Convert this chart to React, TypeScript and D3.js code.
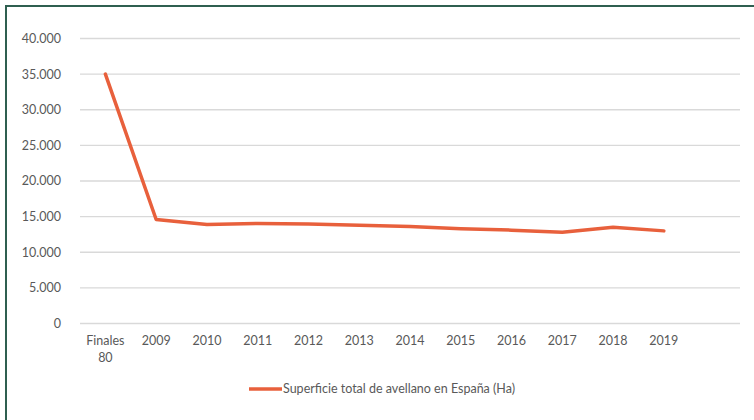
import React, { useEffect, useRef } from 'react';
import * as d3 from 'd3';

// categories (last one is an empty slot, the axis keeps room for it)
const categories = ['Finales 80', '2009', '2010', '2011', '2012', '2013', '2014', '2015', '2016', '2017', '2018', '2019', ''];
const superficie = [35000, 14600, 13900, 14050, 13950, 13800, 13600, 13300, 13100, 12800, 13500, 13000];
const yTicks = [0, 5000, 10000, 15000, 20000, 25000, 30000, 35000, 40000];
const seriesName = 'Superficie total de avellano en España (Ha)';

const App = () => {
  const svgRef = useRef<SVGSVGElement>(null);

  useEffect(() => {
    const width = 754;
    const height = 420;
    const svg = d3.select(svgRef.current);
    svg.selectAll('*').remove();
    svg.attr('width', width).attr('height', height);

    const font = 'Lato, "Open Sans", sans-serif';
    const textColor = '#595959';
    const lineColor = '#e8603c';
    const fs = 12.5;

    svg.append('rect').attr('width', width).attr('height', height).attr('fill', '#fff');

    // dark green frame (top and left)
    svg.append('path')
      .attr('d', `M6,${height} L6,6 L${width},6`)
      .attr('fill', 'none')
      .attr('stroke', '#2f5f50')
      .attr('stroke-width', 2);

    const left = 80, right = 740, top = 38.5, bottom = 323.5;

    const x = d3.scaleBand().domain(categories).range([left, right]);
    const y = d3.scaleLinear().domain([0, 40000]).range([bottom, top]);

    // gridlines
    svg.append('g')
      .selectAll('line')
      .data(yTicks)
      .enter().append('line')
      .attr('x1', left).attr('x2', right)
      .attr('y1', d => y(d)).attr('y2', d => y(d))
      .attr('stroke', '#d9d9d9')
      .attr('stroke-width', 1.3);

    // y labels
    const fmt = (d: number) => d === 0 ? '0' : d3.format(',')(d).replace(/,/g, '.');
    svg.append('g')
      .selectAll('text')
      .data(yTicks)
      .enter().append('text')
      .attr('x', 61)
      .attr('y', d => y(d))
      .attr('dy', '0.35em')
      .attr('text-anchor', 'end')
      .attr('font-family', font)
      .attr('font-size', fs)
      .attr('fill', textColor)
      .text(d => fmt(d));

    // x labels
    const xl = svg.append('g')
      .selectAll('text')
      .data(categories)
      .enter().append('text')
      .attr('x', d => (x(d) as number) + x.bandwidth() / 2)
      .attr('y', 345)
      .attr('text-anchor', 'middle')
      .attr('font-family', font)
      .attr('font-size', fs)
      .attr('fill', textColor);
    xl.each(function (d) {
      const parts = d.split(' ');
      const t = d3.select(this);
      parts.forEach((p, i) => {
        t.append('tspan')
          .attr('x', (x(d) as number) + x.bandwidth() / 2)
          .attr('dy', i === 0 ? 0 : 17)
          .text(p);
      });
    });

    // line
    const line = d3.line<number>()
      .x((d, i) => (x(categories[i]) as number) + x.bandwidth() / 2)
      .y(d => y(d));

    svg.append('path')
      .datum(superficie)
      .attr('d', line)
      .attr('fill', 'none')
      .attr('stroke', lineColor)
      .attr('stroke-width', 3.5)
      .attr('stroke-linejoin', 'round')
      .attr('stroke-linecap', 'round');

    // legend
    svg.append('line')
      .attr('x1', 249).attr('x2', 282)
      .attr('y1', 389).attr('y2', 389)
      .attr('stroke', lineColor)
      .attr('stroke-width', 3.5);

    svg.append('text')
      .attr('x', 283)
      .attr('y', 389)
      .attr('dy', '0.35em')
      .attr('font-family', font)
      .attr('font-size', fs)
      .attr('fill', textColor)
      .text(seriesName);
  }, []);

  return (
    <svg ref={svgRef} style={{ position: 'absolute', left: 0, top: 0, display: 'block' }}></svg>
  );
};

export default App;
